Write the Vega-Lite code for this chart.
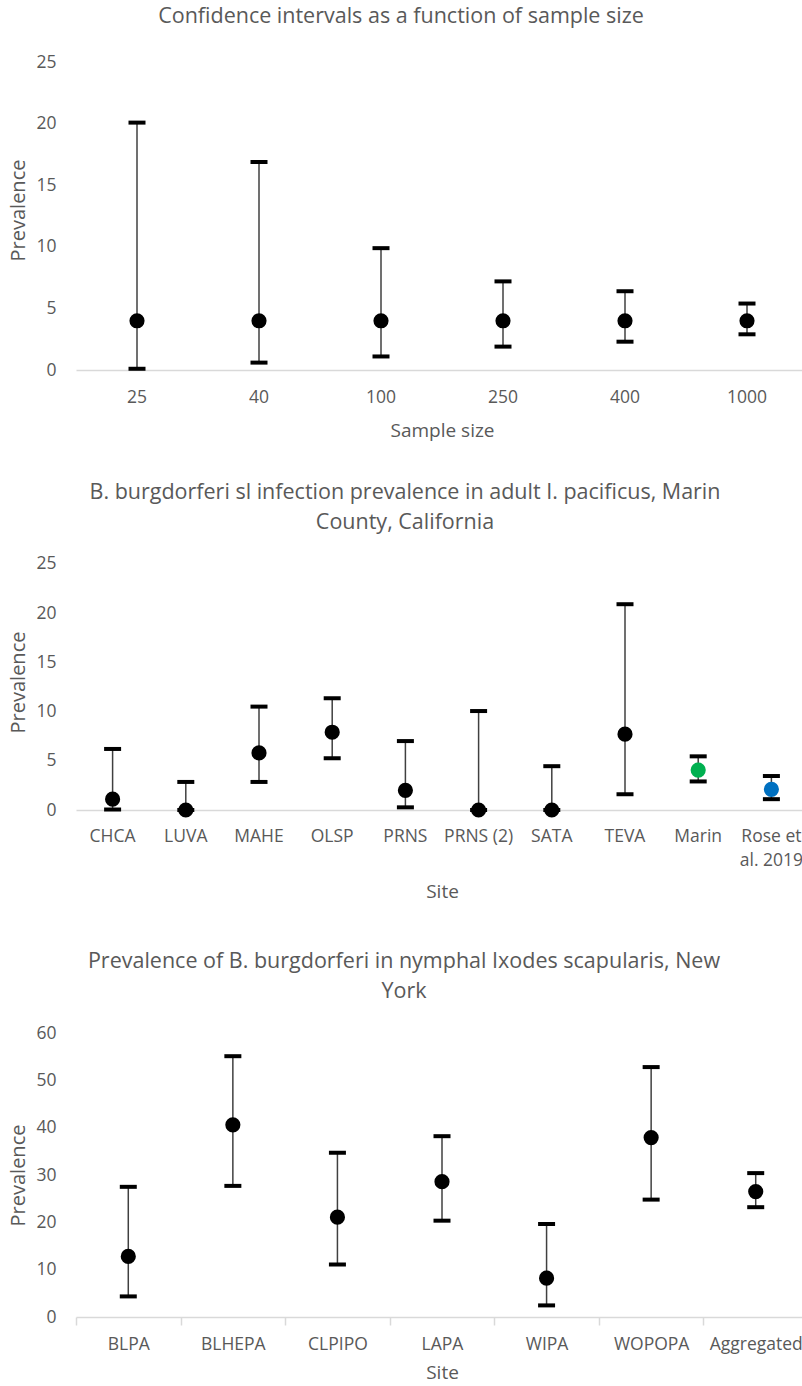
{
  "$schema": "https://vega.github.io/schema/vega-lite/v6.json",
  "padding": {"left": 8, "top": 5, "right": 0, "bottom": 0},
  "background": "white",
  "spacing": 40,
  "config": {
    "view": {"stroke": null},
    "font": "Open Sans",
    "title": {"font": "Open Sans", "fontSize": 21.5, "fontWeight": "normal", "color": "#595959", "anchor": "middle", "lineHeight": 30},
    "axis": {"labelFont": "Open Sans", "labelFontSize": 17.5, "labelColor": "#595959", "titleFont": "Open Sans", "titleFontSize": 19, "titleFontWeight": "normal", "titleColor": "#595959", "grid": false}
  },
  "datasets": {
    "sample": [
      {"n": "25", "p": 4, "lo": 0.1, "hi": 20.1},
      {"n": "40", "p": 4, "lo": 0.6, "hi": 16.9},
      {"n": "100", "p": 4, "lo": 1.1, "hi": 9.9},
      {"n": "250", "p": 4, "lo": 1.9, "hi": 7.2},
      {"n": "400", "p": 4, "lo": 2.3, "hi": 6.4},
      {"n": "1000", "p": 4, "lo": 2.9, "hi": 5.4}
    ],
    "marin": [
      {"site": "CHCA", "group": "Site", "p": 1.1, "lo": 0.05, "hi": 6.2},
      {"site": "LUVA", "group": "Site", "p": 0, "lo": 0, "hi": 2.85},
      {"site": "MAHE", "group": "Site", "p": 5.8, "lo": 2.85, "hi": 10.5},
      {"site": "OLSP", "group": "Site", "p": 7.9, "lo": 5.25, "hi": 11.35},
      {"site": "PRNS", "group": "Site", "p": 2.0, "lo": 0.27, "hi": 7.0},
      {"site": "PRNS (2)", "group": "Site", "p": 0, "lo": 0, "hi": 10.05},
      {"site": "SATA", "group": "Site", "p": 0, "lo": 0, "hi": 4.45},
      {"site": "TEVA", "group": "Site", "p": 7.7, "lo": 1.6, "hi": 20.9},
      {"site": "Marin", "group": "County", "p": 4.05, "lo": 2.9, "hi": 5.45},
      {"site": "Rose et al. 2019", "group": "Published", "p": 2.1, "lo": 1.1, "hi": 3.45}
    ],
    "ny": [
      {"site": "BLPA", "p": 12.8, "lo": 4.35, "hi": 27.5},
      {"site": "BLHEPA", "p": 40.6, "lo": 27.7, "hi": 55.1},
      {"site": "CLPIPO", "p": 21.1, "lo": 11.1, "hi": 34.7},
      {"site": "LAPA", "p": 28.6, "lo": 20.35, "hi": 38.2},
      {"site": "WIPA", "p": 8.2, "lo": 2.45, "hi": 19.65},
      {"site": "WOPOPA", "p": 37.9, "lo": 24.8, "hi": 52.8},
      {"site": "Aggregated", "p": 26.5, "lo": 23.2, "hi": 30.4}
    ]
  },
  "vconcat": [
    {
      "title": {"text": "Confidence intervals as a function of sample size", "offset": 23, "dx": -41},
      "width": 732,
      "height": 320,
      "data": {"name": "sample"},
      "encoding": {
        "x": {"field": "n", "type": "nominal", "sort": null, "title": "Sample size",
          "scale": {"paddingInner": 0, "paddingOuter": 0},
          "axis": {"labelAngle": 0, "ticks": false, "domainColor": "#d9d9d9", "domainWidth": 1.5, "labelPadding": 18, "titlePadding": 16}}
      },
      "layer": [
        {"mark": {"type": "rule", "color": "#404040", "strokeWidth": 1.5},
          "encoding": {"y": {"field": "lo", "type": "quantitative", "scale": {"domain": [0, 25]},
            "axis": {"values": [0, 5, 10, 15, 20, 25], "domain": false, "ticks": false, "labelPadding": 20, "titlePadding": 7, "titleFontSize": 20}, "title": "Prevalence"},
            "y2": {"field": "hi"}}},
        {"mark": {"type": "tick", "color": "black", "opacity": 1, "size": 17, "thickness": 4}, "encoding": {"y": {"field": "lo", "type": "quantitative"}}},
        {"mark": {"type": "tick", "color": "black", "opacity": 1, "size": 17, "thickness": 4}, "encoding": {"y": {"field": "hi", "type": "quantitative"}}},
        {"mark": {"type": "circle", "color": "black", "opacity": 1, "size": 230}, "encoding": {"y": {"field": "p", "type": "quantitative"}}}
      ]
    },
    {
      "spacing": 50,
      "vconcat": [
        {
          "title": {"text": ["B. burgdorferi sl infection prevalence in adult I. pacificus, Marin", "County, California"], "offset": 21, "dx": -37},
          "width": 732,
          "height": 256,
          "data": {"name": "marin"},
          "encoding": {
            "x": {"field": "site", "type": "nominal", "sort": null, "title": "Site",
              "scale": {"paddingInner": 0, "paddingOuter": 0},
              "axis": {"labelAngle": 0, "ticks": false, "domainColor": "#d9d9d9", "domainWidth": 1.5, "labelPadding": 17, "titlePadding": 13, "labelLineHeight": 24.5,
                "labelExpr": "datum.label == 'Rose et al. 2019' ? ['Rose et', 'al. 2019'] : datum.label"}}
          },
          "layer": [
            {"mark": {"type": "rule", "color": "#404040", "strokeWidth": 1.5},
              "encoding": {"y": {"field": "lo", "type": "quantitative", "scale": {"domain": [0, 25]},
                "axis": {"values": [0, 5, 10, 15, 20, 25], "domain": false, "ticks": false, "labelPadding": 20, "titlePadding": 7, "titleFontSize": 20}, "title": "Prevalence"},
                "y2": {"field": "hi"}}},
            {"mark": {"type": "tick", "color": "black", "opacity": 1, "size": 17, "thickness": 4}, "encoding": {"y": {"field": "lo", "type": "quantitative"}}},
            {"mark": {"type": "tick", "color": "black", "opacity": 1, "size": 17, "thickness": 4}, "encoding": {"y": {"field": "hi", "type": "quantitative"}}},
            {"mark": {"type": "circle", "opacity": 1, "size": 230},
              "encoding": {"y": {"field": "p", "type": "quantitative"},
                "color": {"field": "group", "type": "nominal", "legend": null,
                  "scale": {"domain": ["Site", "County", "Published"], "range": ["black", "#00b050", "#0070c0"]}}}}
          ]
        },
        {
          "title": {"text": ["Prevalence of B. burgdorferi in nymphal Ixodes scapularis, New", "York"], "offset": 21.5, "dx": -38},
          "width": 732,
          "height": 284,
          "data": {"name": "ny"},
          "encoding": {
            "x": {"field": "site", "type": "nominal", "sort": null, "title": "Site",
              "scale": {"paddingInner": 0, "paddingOuter": 0},
              "axis": {"labelAngle": 0, "ticks": true, "tickBand": "extent", "tickColor": "#d9d9d9", "tickWidth": 1.5, "tickSize": 8, "domainColor": "#d9d9d9", "domainWidth": 1.5, "labelPadding": 10, "titlePadding": 11}}
          },
          "layer": [
            {"mark": {"type": "rule", "color": "#404040", "strokeWidth": 1.5},
              "encoding": {"y": {"field": "lo", "type": "quantitative", "scale": {"domain": [0, 60]},
                "axis": {"values": [0, 10, 20, 30, 40, 50, 60], "domain": false, "ticks": false, "labelPadding": 20, "titlePadding": 7, "titleFontSize": 20}, "title": "Prevalence"},
                "y2": {"field": "hi"}}},
            {"mark": {"type": "tick", "color": "black", "opacity": 1, "size": 17, "thickness": 4}, "encoding": {"y": {"field": "lo", "type": "quantitative"}}},
            {"mark": {"type": "tick", "color": "black", "opacity": 1, "size": 17, "thickness": 4}, "encoding": {"y": {"field": "hi", "type": "quantitative"}}},
            {"mark": {"type": "circle", "color": "black", "opacity": 1, "size": 230}, "encoding": {"y": {"field": "p", "type": "quantitative"}}}
          ]
        }
      ]
    }
  ]
}
